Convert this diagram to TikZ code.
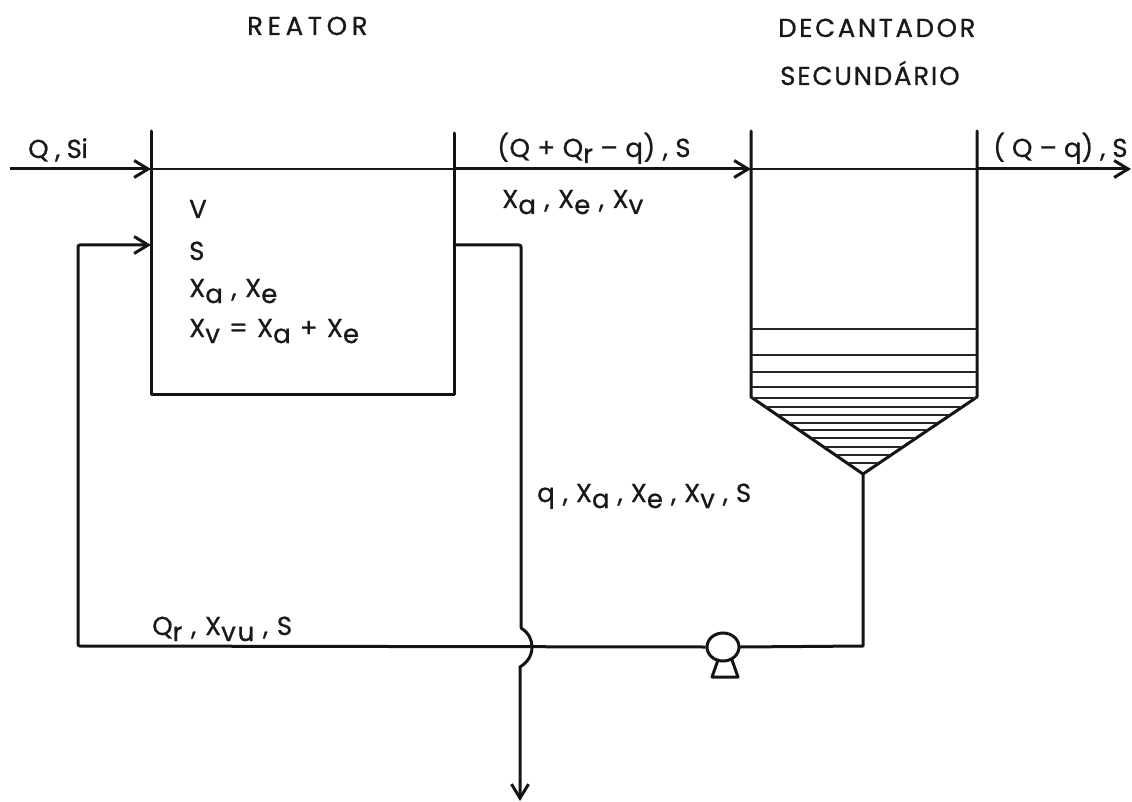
\documentclass[tikz,border=0pt]{standalone}
\usepackage{fontspec}
\setmainfont{Poppins}[FakeBold=0.8]
\usetikzlibrary{arrows.meta,shapes.geometric}
\newcommand{\sbs}[1]{\raisebox{-6pt}{#1}}
\newcommand{\ls}[1]{\addfontfeature{LetterSpace=#1}}
\tikzset{
  wall/.style={line width=3pt,line cap=round,line join=round,draw=black!92},
  level/.style={line width=1.6pt,draw=black!85},
  flow/.style={line width=3pt,draw=black!92,-{Straight Barb[length=14pt,width=17pt,line width=3pt]}},
  surface/.style={line width=1.9pt,draw=black!90},
  pumpbody/.style={draw=black!92,line width=3pt,ellipse,minimum width=32pt,minimum height=28pt,inner sep=0pt},
  lab/.style={inner sep=0pt,font=\fontsize{26}{30}\selectfont,text=black!90,anchor=base west},
  heading/.style={lab}
}
\begin{document}
\begin{tikzpicture}[x=1pt,y=-1pt]
\useasboundingbox (0,0) rectangle (1132,802);
% named points
\coordinate (inQ) at (10,169);
\coordinate (rTL) at (151,131);
\coordinate (rIn) at (151,169);
\coordinate (rRec) at (151,245);
\coordinate (rBL) at (151,394);
\coordinate (rBR) at (454,394);
\coordinate (rOut) at (454,245);
\coordinate (rTR) at (454,133);
\coordinate (rSurf) at (454,169);
\coordinate (dTL) at (751,131);
\coordinate (dIn) at (751,169);
\coordinate (dBL) at (751,397);
\coordinate (apex) at (863,474);
\coordinate (dBR) at (977,397);
\coordinate (dTR) at (977,131);
\coordinate (dSurf) at (977,169);
\coordinate (outQ) at (1131,169);
\coordinate (wasteEnd) at (520,801);
\coordinate (recBR) at (863,646);
\coordinate (recBL) at (78,646);
\coordinate (recTL) at (78,245);
\coordinate (wasteTop) at (521,245);
\coordinate (bumpTop) at (521,628);
% tanks
\draw[wall] (rTL) -- (rBL) -- (rBR) -- (rTR);
\draw[wall] (dTL) -- (dBL) -- (apex) -- (dBR) -- (dTR);
% surface lines
\draw[flow] (inQ) -- (rIn);
\draw[surface] (rIn) -- (rSurf);
\draw[flow] (rSurf) -- (dIn);
\draw[surface] (dIn) -- (dSurf);
\draw[flow] (dSurf) -- (outQ);
% sludge levels
\draw[level] (751,329) -- (977,329);
\draw[level] (751,355) -- (977,355);
\draw[level] (751,372) -- (977,372);
\draw[level] (751,387) -- (977,387);
\draw[level] (751,398) -- (977,398);
\draw[level] (765,407) -- (962,407);
\draw[level] (778,415) -- (949,415);
\draw[level] (790,423) -- (937,423);
\draw[level] (801,430) -- (926,430);
\draw[level] (812,438) -- (914,438);
\draw[level] (825,447) -- (902,447);
\draw[level] (837,455) -- (890,455);
\draw[level] (848,463) -- (878,463);
% pump
\node[pumpbody] (pump) at (723,647) {};
\draw[wall] (718,660) -- (712,677) -- (738,677) -- (732,660);
% recycle
\draw[wall] (apex) -- (recBR) -- (pump.east);
\draw[flow,rounded corners=2pt] (pump.west) -- (recBL) -- (recTL) -- (rRec);
% waste
\draw[wall,rounded corners=2pt] (rOut) -- (wasteTop) -- (bumpTop);
\draw[flow] (bumpTop) .. controls (529,633) and (532,640) .. (532,647) .. controls (532,655) and (528,662) .. (520,667) -- (wasteEnd);
% labels
\node[heading] (t1) at (247,35) {\ls{18}REATOR};
\node[heading] (t2) at (778,37) {\ls{10}DECANTADOR};
\node[heading] (t3) at (780,85) {\ls{7}SECUNDÁRIO};
\node[lab] (l1) at (28,158) {\ls{-2}Q , Si};
\node[lab] (l2) at (497,157) {\ls{2}(Q + Q\sbs{r} – q) , S};
\node[lab] (l3) at (502,208) {\ls{6}X\sbs{a} , X\sbs{e} , X\sbs{v}};
\node[lab] (l4) at (993,157) {( Q – q) , S};
\node[lab] (l5) at (189,218) {V};
\node[lab] (l6) at (189,260) {S};
\node[lab] (l7) at (189,297) {\ls{6}X\sbs{a} ,  X\sbs{e}};
\node[lab] (l8) at (189,337) {\ls{8.5}X\sbs{v} = X\sbs{a} + X\sbs{e}};
\node[lab] (l9) at (537,502) {\ls{4}q , X\sbs{a} , X\sbs{e} , X\sbs{v} , S};
\node[lab] (l10) at (152,635) {\ls{7}Q\sbs{r} , X\sbs{vu} , S};
\end{tikzpicture}
\end{document}
